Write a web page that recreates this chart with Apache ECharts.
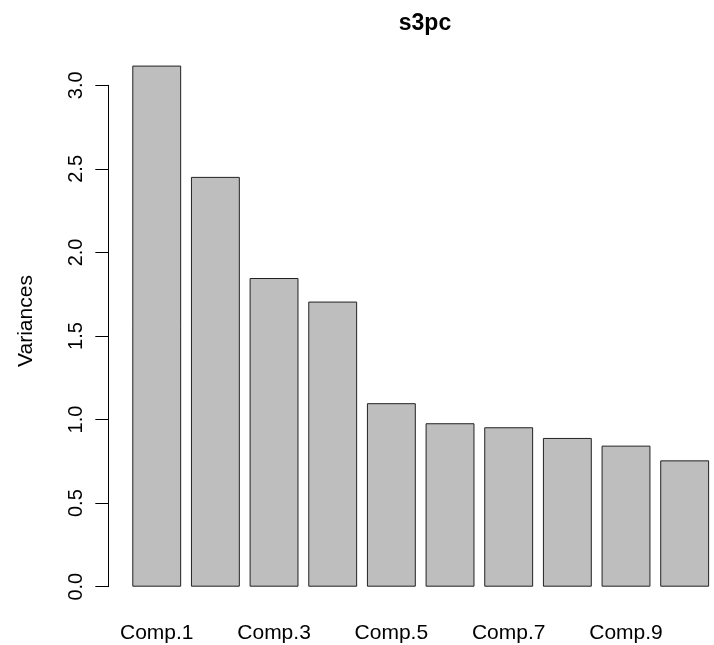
<!DOCTYPE html>
<html>
<head>
<meta charset="utf-8">
<script src="https://cdn.jsdelivr.net/npm/echarts@6/dist/echarts.min.js"></script>
<style>
html,body{margin:0;padding:0;background:#fff;}
#chart{width:714px;height:645px;}
</style>
</head>
<body>
<div id="chart"></div>
<script>
var titleText = 's3pc';
var yAxisName = 'Variances';
var categories = ['Comp.1','Comp.2','Comp.3','Comp.4','Comp.5','Comp.6','Comp.7','Comp.8','Comp.9','Comp.10'];
var variances = [3.118, 2.452, 1.847, 1.706, 1.098, 0.978, 0.954, 0.890, 0.844, 0.756];
var yTicks = [0, 0.5, 1.0, 1.5, 2.0, 2.5, 3.0];

var font = '"Liberation Sans", Arial, sans-serif';
var chart = echarts.init(document.getElementById('chart'), null, {renderer: 'canvas'});
chart.setOption({
  backgroundColor: '#ffffff',
  animation: false,
  title: {
    text: titleText,
    left: 420,
    top: 7,
    textAlign: 'center',
    textStyle: {fontFamily: font, fontWeight: 'bold', fontSize: 23, color: '#000'}
  },
  grid: {left: 127.4, top: 85.3, width: 592.4, height: 501.4, containLabel: false},
  xAxis: {
    type: 'category',
    data: categories,
    axisLine: {show: false},
    axisTick: {show: false},
    axisLabel: {interval: 1, margin: 36, fontFamily: font, fontSize: 21, color: '#000'}
  },
  yAxis: {
    type: 'value',
    min: yTicks[0],
    max: yTicks[yTicks.length - 1],
    interval: 0.5,
    offset: 19.1,
    splitLine: {show: false},
    axisLine: {show: true, lineStyle: {color: '#000', width: 1}},
    axisTick: {show: true, length: 13, lineStyle: {color: '#000'}},
    axisLabel: {
      rotate: 90, margin: 22, fontFamily: font, fontSize: 20, color: '#000',
      formatter: function (v) { return v.toFixed(1); }
    },
    name: yAxisName,
    nameLocation: 'middle',
    nameRotate: 90,
    nameGap: 72,
    nameTextStyle: {fontFamily: font, fontSize: 21, color: '#000', padding: [0, 0, 0, 30]}
  },
  series: [{
    type: 'bar',
    data: variances,
    clip: false,
    barCategoryGap: '16.67%',
    itemStyle: {color: '#bebebe', borderColor: '#222', borderWidth: 1}
  }]
});
</script>
</body>
</html>
